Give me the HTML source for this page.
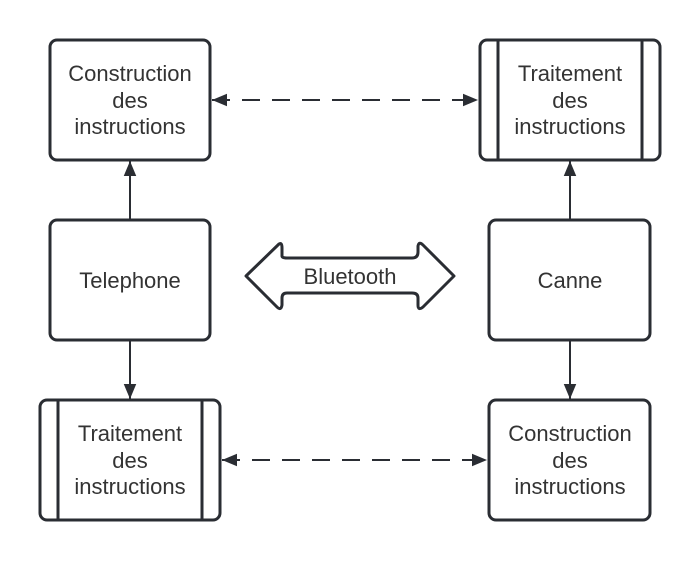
<!DOCTYPE html>
<html><head><meta charset="utf-8"><style>
html,body{margin:0;padding:0;background:#fff}
svg text{font-family:"Liberation Sans",Arial,sans-serif;font-size:22px;fill:#333;text-anchor:middle}
</style></head><body>
<svg width="700" height="560" viewBox="0 0 700 560" xmlns="http://www.w3.org/2000/svg">
<defs>
<marker id="b" viewBox="0 0 12 10" refX="12" refY="5" markerWidth="15" markerHeight="13" orient="auto-start-reverse" markerUnits="userSpaceOnUse">
<path d="M0,0 L12,5 L0,10 z" fill="#2a2d33"/></marker>
</defs>
<g fill="#fff" stroke="#2a2d33" stroke-width="3">
<rect x="50" y="40" width="160" height="120" rx="7"/>
<rect x="480" y="40" width="180" height="120" rx="7"/>
<rect x="50" y="220" width="160" height="120" rx="7"/>
<rect x="489" y="220" width="161" height="120" rx="7"/>
<rect x="40" y="400" width="180" height="120" rx="7"/>
<rect x="489" y="400" width="161" height="120" rx="7"/>
<line x1="498" y1="40" x2="498" y2="160"/>
<line x1="642" y1="40" x2="642" y2="160"/>
<line x1="58" y1="400" x2="58" y2="520"/>
<line x1="202" y1="400" x2="202" y2="520"/>
</g>
<g stroke="#2a2d33" stroke-width="2" fill="none">
<line x1="130" y1="220" x2="130" y2="161" marker-end="url(#b)"/>
<line x1="570" y1="220" x2="570" y2="161" marker-end="url(#b)"/>
<line x1="130" y1="340" x2="130" y2="399" marker-end="url(#b)"/>
<line x1="570" y1="340" x2="570" y2="399" marker-end="url(#b)"/>
<line x1="212" y1="100" x2="478" y2="100" stroke-dasharray="18,12" marker-start="url(#b)" marker-end="url(#b)"/>
<line x1="222" y1="460" x2="487" y2="460" stroke-dasharray="18,12" marker-start="url(#b)" marker-end="url(#b)"/>
</g>
<path d="M246,276 L279,244 Q282,242 282,248 L282,256 Q282,258 287,258 L412,258 Q418,258 418,252 L418,246 Q419,241 423,245 L454,276 L423,307 Q418,311 418,305 L418,298 Q418,293 412,293 L287,293 Q282,293 282,298 L282,305 Q281,311 277,307 Z" fill="#fff" stroke="#2a2d33" stroke-width="3" stroke-linejoin="round"/>
<text x="350" y="284">Bluetooth</text>
<text x="130" y="81">Construction</text><text x="130" y="108">des</text><text x="130" y="134">instructions</text>
<text x="570" y="81">Traitement</text><text x="570" y="108">des</text><text x="570" y="134">instructions</text>
<text x="130" y="288">Telephone</text>
<text x="570" y="288">Canne</text>
<text x="130" y="441">Traitement</text><text x="130" y="468">des</text><text x="130" y="494">instructions</text>
<text x="570" y="441">Construction</text><text x="570" y="468">des</text><text x="570" y="494">instructions</text>
</svg>
</body></html>
